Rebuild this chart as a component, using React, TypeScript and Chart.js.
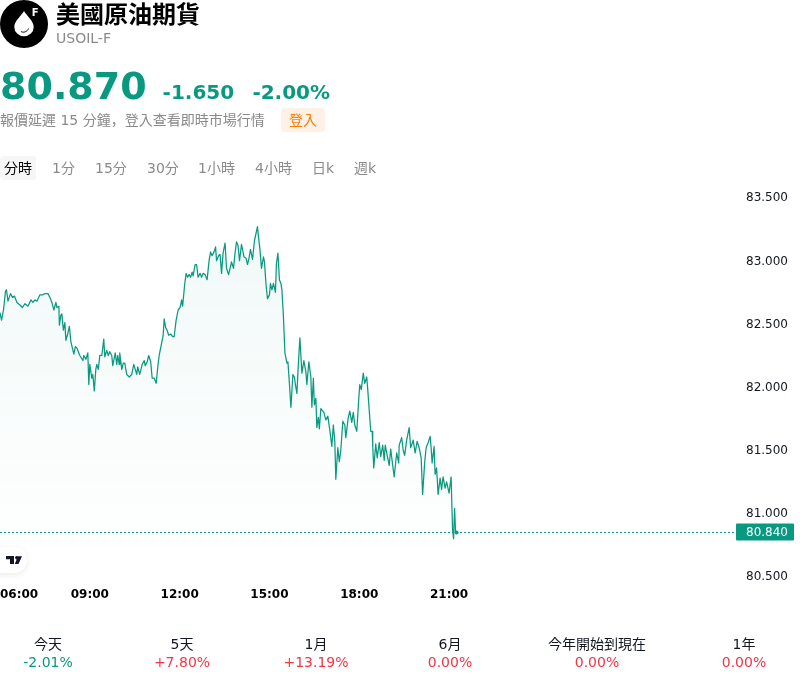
import React, { useEffect, useRef } from "react";
import { Chart, registerables } from "chart.js";

Chart.register(...registerables);

const FONT = '"DejaVu Sans", "Noto Sans CJK JP", sans-serif';
const GREEN = "#099981";
const RED = "#f23645";

const minutes = [0,3,7,11,13,16,21,25,29,34,40,45,50,56,62,66,70,74,80,86,90,96,100,104,108,112,114,118,119,122,124,127,130,132,135,139,142,148,151,154,160,166,168,172,176,178,180,184,186,189,192,194,197,200,204,208,210,214,217,220,224,226,231,234,236,239,240,244,247,250,254,259,264,268,274,276,280,285,289,291,295,298,302,305,309,313,317,319,323,327,329,332,335,338,342,346,349,353,357,361,364,366,370,373,376,379,382,385,387,391,394,397,401,404,407,411,415,419,422,425,429,432,434,438,441,444,447,451,454,458,461,464,468,471,474,477,480,484,489,493,496,499,502,506,510,516,518,521,524,528,530,533,536,540,542,545,548,552,554,557,560,563,565,568,571,575,577,580,583,587,590,592,595,598,601,603,605,609,613,615,619,623,625,628,630,633,635,638,640,643,649,653,657,661,665,668,671,673,677,680,683,687,691,693,698,701,705,708,711,715,719,721,724,728,731,735,737,743,746,747,749,753,756,760,763,767,770,772,776,780,783,787,790,795,799,800,805,808,811,815,820,823,828,832,836,840,844,847,851,854,858,862,864,866,870,872,875,878,882,885,888,892,895,900,904,907,909,911,913,915];
const prices = [82.58,82.52,82.60,82.75,82.76,82.67,82.73,82.70,82.71,82.66,82.64,82.62,82.65,82.63,82.68,82.66,82.68,82.67,82.72,82.72,82.73,82.73,82.70,82.66,82.60,82.66,82.62,82.63,82.48,82.56,82.57,82.44,82.50,82.36,82.40,82.47,82.35,82.25,82.31,82.30,82.24,82.20,82.24,82.21,82.26,82.01,82.17,82.06,82.09,81.96,82.13,82.17,82.13,82.24,82.24,82.37,82.23,82.28,82.24,82.27,82.24,82.16,82.26,82.17,82.24,82.17,82.26,82.13,82.18,82.18,82.09,82.07,82.09,82.17,82.09,82.15,82.09,82.17,82.20,82.16,82.19,82.24,82.19,82.06,82.06,82.02,82.18,82.24,82.32,82.40,82.53,82.46,82.44,82.40,82.41,82.39,82.39,82.52,82.60,82.62,82.68,82.63,82.80,82.89,82.86,82.88,82.86,82.90,82.87,82.96,82.96,82.86,82.89,82.86,82.89,82.88,82.84,82.99,83.06,83.03,83.06,83.10,82.99,83.03,83.04,82.89,83.05,83.13,82.93,82.88,82.93,82.98,82.93,83.05,83.14,83.11,82.99,83.12,83.02,83.01,82.96,83.01,83.08,83.00,83.15,83.26,83.18,83.08,82.93,83.02,82.98,82.81,82.69,82.72,82.81,82.76,82.81,82.74,82.97,83.05,82.84,82.81,82.76,82.55,82.26,82.18,82.19,82.02,81.83,82.09,82.07,82.01,81.94,82.18,82.38,82.24,82.10,82.20,82.11,82.01,82.19,82.07,81.83,82.06,81.85,81.90,81.67,81.75,81.66,81.82,81.79,81.73,81.76,81.65,81.52,81.69,81.56,81.26,81.51,81.40,81.49,81.72,81.69,81.59,81.75,81.80,81.71,81.79,81.69,81.64,81.90,82.01,81.97,82.10,82.02,82.07,81.97,81.64,81.64,81.52,81.35,81.54,81.43,81.55,81.44,81.53,81.41,81.53,81.45,81.37,81.50,81.37,81.28,81.47,81.39,81.53,81.59,81.49,81.45,81.57,81.67,81.51,81.57,81.47,81.56,81.51,81.43,81.14,81.39,81.51,81.55,81.60,81.51,81.39,81.52,81.30,81.35,81.14,81.27,81.18,81.28,81.19,81.24,81.15,81.28,80.86,80.79,81.03,80.84,80.84];

const priceTicks = [80.5, 81, 81.5, 82, 82.5, 83, 83.5];
const timeTicks = [0, 180, 360, 540, 720, 900];
const timeLabels = ["06:00", "09:00", "12:00", "15:00", "18:00", "21:00"];
const lastPrice = 80.84;
const lastPriceLabel = "80.840";

const tabs = ["分時", "1分", "15分", "30分", "1小時", "4小時", "日k", "週k"];
const tabLeft = [4, 52, 95, 147, 198, 255, 312, 354];
const statNames = ["今天", "5天", "1月", "6月", "今年開始到現在", "1年"];
const statValues = ["-2.01%", "+7.80%", "+13.19%", "0.00%", "0.00%", "0.00%"];
const statColors = [GREEN, RED, RED, RED, RED, RED];
const statCenters = [48, 182, 316, 450, 597, 744];

const lastPricePlugin = {
  id: "lastPrice",
  afterDatasetsDraw(chart: any) {
    const { ctx, chartArea, scales } = chart;
    const y = Math.round(scales.y.getPixelForValue(lastPrice)) + 0.5;
    ctx.save();
    ctx.strokeStyle = GREEN;
    ctx.lineWidth = 1;
    ctx.setLineDash([2, 2]);
    ctx.beginPath();
    ctx.moveTo(chartArea.left, y);
    ctx.lineTo(chartArea.right, y);
    ctx.stroke();
    ctx.setLineDash([]);
    ctx.fillStyle = GREEN;
    ctx.beginPath();
    ctx.roundRect(chartArea.right, y - 9, 58, 17, 1);
    ctx.fill();
    ctx.fillStyle = "#ffffff";
    ctx.font = `12px ${FONT}`;
    ctx.textBaseline = "middle";
    ctx.textAlign = "left";
    ctx.fillText(lastPriceLabel, chartArea.right + 10, y);
    ctx.restore();
  },
};

const abs = (left: number, top: number, extra: React.CSSProperties = {}): React.CSSProperties => ({
  position: "absolute",
  left,
  top,
  whiteSpace: "pre",
  ...extra,
});

export default function App() {
  const ref = useRef<HTMLCanvasElement>(null);
  useEffect(() => {
    const chart = new Chart(ref.current as HTMLCanvasElement, {
      type: "line",
      data: {
        datasets: [
          {
            data: minutes.map((m, i) => ({ x: m, y: prices[i] })),
            borderColor: GREEN,
            borderWidth: 1.25,
            borderJoinStyle: "round",
            tension: 0,
            fill: "start",
            pointRadius: (c: any) => (c.dataIndex === minutes.length - 1 ? 2 : 0),
            pointBackgroundColor: GREEN,
            pointBorderWidth: 0,
            backgroundColor: (c: any) => {
              const a = c.chart.chartArea;
              if (!a) return "rgba(9,153,129,0.05)";
              const g = c.chart.ctx.createLinearGradient(0, 230, 0, 560);
              g.addColorStop(0, "rgba(9,153,129,0.06)");
              g.addColorStop(1, "rgba(9,153,129,0)");
              return g;
            },
          },
        ],
      },
      options: {
        animation: false,
        responsive: false,
        layout: { autoPadding: false, padding: { top: 171, left: 0, right: 0, bottom: 0 } },
        plugins: { legend: { display: false }, tooltip: { enabled: false } },
        scales: {
          x: {
            type: "linear",
            min: 0,
            max: 1475,
            grid: { display: false, drawTicks: false },
            border: { display: false },
            afterBuildTicks: (s: any) => {
              s.ticks = [...timeTicks, 1475].map((value) => ({ value }));
            },
            afterFit: (s: any) => {
              s.height = 94;
              s.paddingLeft = 0;
              s.paddingRight = 0;
            },
            ticks: {
              autoSkip: false,
              maxRotation: 0,
              align: "inner",
              padding: 0,
              color: "#000000",
              font: { family: FONT, size: 12, weight: "bold" },
              callback: (v: any) => {
                const i = timeTicks.indexOf(Number(v));
                return i >= 0 ? timeLabels[i] : "";
              },
            },
          },
          y: {
            position: "right",
            min: 80.4,
            max: 83.7,
            grid: { display: false, drawTicks: false },
            border: { display: false },
            afterBuildTicks: (s: any) => {
              s.ticks = priceTicks.map((value) => ({ value }));
            },
            afterFit: (s: any) => {
              s.width = 64;
              s.paddingTop = 0;
              s.paddingBottom = 0;
            },
            ticks: {
              padding: 10,
              labelOffset: 2,
              color: "#131722",
              font: { family: FONT, size: 12 },
              callback: (v: any) => Number(v).toFixed(3),
            },
          },
        },
      },
      plugins: [lastPricePlugin],
    } as any);
    return () => chart.destroy();
  }, []);

  return (
    <div style={{ position: "absolute", left: 0, top: 0, width: 800, height: 682, overflow: "hidden", background: "#fff", fontFamily: FONT }}>
      <canvas ref={ref} width={800} height={682} style={{ position: "absolute", left: 0, top: 0, display: "block" }} />

      <svg width="48" height="48" viewBox="0 0 48 48" style={{ position: "absolute", left: 0, top: 0 }}>
        <circle cx="24" cy="24" r="24" fill="#000" />
        <path d="M24 11 C21 16 14.3 21 14.3 27 A9.7 9.3 0 0 0 33.7 27 C33.7 21 27 16 24 11 Z" fill="#fff" />
        <path d="M21 31.5 C23.5 33 27 32 28.5 28.5" fill="none" stroke="#000" strokeWidth="0.9" />
        <text x="31.8" y="16" fontSize="10" fontWeight="bold" fill="#fff" fontFamily={FONT}>F</text>
      </svg>

      <div style={abs(56, 0, { fontSize: 24, fontWeight: 700, lineHeight: "30px", color: "#000" })}>美國原油期貨</div>
      <div style={abs(56, 29, { fontSize: 14, lineHeight: "18px", color: "#8a8a8a" })}>USOIL-F</div>

      <div style={abs(0, 62, { fontSize: 38, fontWeight: 700, lineHeight: "48px", color: GREEN })}>80.870</div>
      <div style={abs(162.6, 78, { fontSize: 20, fontWeight: 700, lineHeight: "28px", color: GREEN })}>-1.650</div>
      <div style={abs(252.4, 78, { fontSize: 20, fontWeight: 700, lineHeight: "28px", color: GREEN })}>-2.00%</div>

      <div style={abs(0, 111, { fontSize: 14, lineHeight: "18px", color: "#8a8a8a" })}>報價延遲 15 分鐘，登入查看即時市場行情</div>
      <div style={abs(281, 108, { width: 44, height: 24, borderRadius: 4, background: "#fff1e6", color: "#ff7a00", fontSize: 14, lineHeight: "24px", textAlign: "center" })}>登入</div>

      <div style={abs(0, 156, { width: 36, height: 24, borderRadius: 4, background: "#f6f6f6" })} />
      {tabs.map((t, i) => (
        <div key={t} style={abs(tabLeft[i], 159, { fontSize: 14, lineHeight: "18px", color: i === 0 ? "#000" : "#8a8a8a" })}>{t}</div>
      ))}

      <div style={abs(-20, 547, { width: 47, height: 26, borderRadius: 13, background: "#fff", boxShadow: "0 2px 6px rgba(0,0,0,0.08)" })} />
      <svg width="16" height="9" viewBox="0 0 16 9" style={{ position: "absolute", left: 6, top: 556 }}>
        <path d="M0 0 H8 V8 H4 V3.2 H0 Z M10.8 0 A1.7 1.7 0 1 1 10.79 0 Z M12 0.2 H16 L12.5 8 H8.8 Z" fill="#131722" />
      </svg>

      {statNames.map((n, i) => (
        <React.Fragment key={n}>
          <div style={abs(statCenters[i] - 60, 635, { width: 120, textAlign: "center", fontSize: 14, lineHeight: "18px", color: "#131722" })}>{n}</div>
          <div style={abs(statCenters[i] - 60, 653, { width: 120, textAlign: "center", fontSize: 14, lineHeight: "18px", color: statColors[i] })}>{statValues[i]}</div>
        </React.Fragment>
      ))}
    </div>
  );
}
